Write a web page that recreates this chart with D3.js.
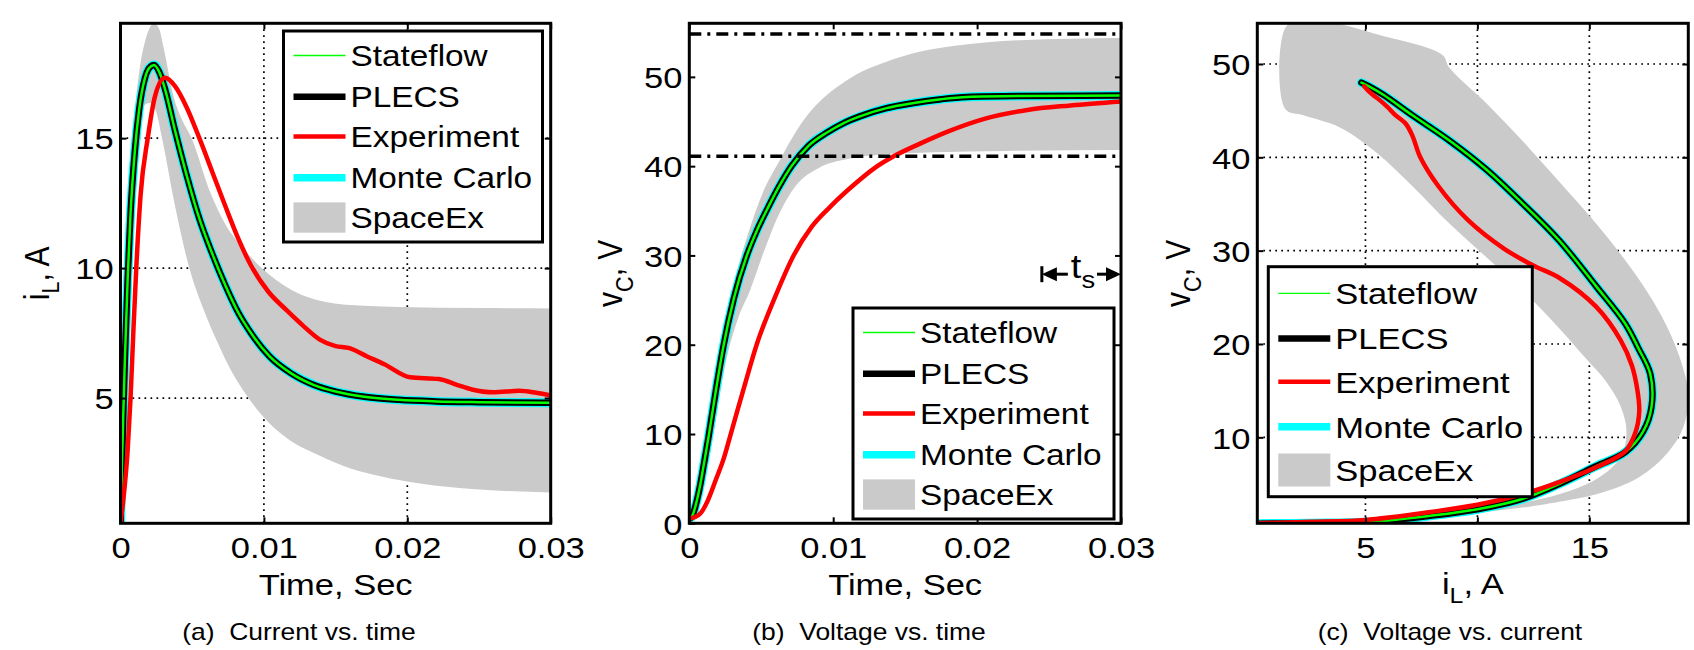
<!DOCTYPE html>
<html>
<head>
<meta charset="utf-8">
<script src="https://cdn.jsdelivr.net/npm/d3@7"></script>
<style>
  html, body { margin: 0; padding: 0; background: #fff; }
  svg { display: block; font-family: "Liberation Sans", Arial, Helvetica, sans-serif; }
</style>
</head>
<body>
<svg id="fig" width="1694" height="650"></svg>
<script>
// ---------- (a) inductor current vs. time ----------
const timeNomA = [0, 0.0001, 0.0002, 0.0003, 0.0005, 0.0007, 0.001, 0.0013, 0.0017, 0.002, 0.00234, 0.0027, 0.0031, 0.0038, 0.0046, 0.0055, 0.0064, 0.0073, 0.0082, 0.0091, 0.0104, 0.0119, 0.0135, 0.015, 0.017, 0.0194, 0.022, 0.025, 0.03];
const iLNomA   = [0.2, 2.4, 4.5, 6.4, 9.6, 12.1, 14.5, 16.1, 17.3, 17.7, 17.82, 17.55, 16.9, 15.3, 13.6, 11.9, 10.55, 9.35, 8.3, 7.5, 6.6, 5.95, 5.5, 5.25, 5.05, 4.93, 4.87, 4.84, 4.82];

const timeExpA = [0, 0.0002, 0.0005, 0.0007, 0.0009, 0.0011, 0.0014, 0.0019, 0.0024, 0.0031, 0.0038, 0.0046, 0.0055, 0.0064, 0.0073, 0.0082, 0.0091, 0.0103, 0.0116, 0.0128, 0.0139, 0.015, 0.0159, 0.0172, 0.0184, 0.0202, 0.0222, 0.0235, 0.0245, 0.026, 0.0278, 0.029, 0.03];
const iLExpA   = [0.2, 1.1, 3.0, 5.0, 7.6, 10.0, 12.8, 15.0, 16.6, 17.32, 17.0, 16.2, 15.0, 13.7, 12.4, 11.15, 10.1, 9.1, 8.37, 7.75, 7.25, 7.0, 6.93, 6.6, 6.3, 5.8, 5.73, 5.5, 5.33, 5.22, 5.28, 5.2, 5.1];

const timeHiA = [0, 0.0002, 0.0004, 0.0007, 0.00108, 0.0014, 0.0017, 0.002, 0.00234, 0.0027, 0.003, 0.0037, 0.0043, 0.00496, 0.0062, 0.0073, 0.0085, 0.00985, 0.0119, 0.0144, 0.017, 0.0194, 0.025, 0.03];
const iLHiA   = [0.2, 5, 9.5, 13.8, 16.5, 17.9, 18.7, 19.2, 19.42, 19.2, 18.5, 16.6, 15.7, 15.0, 13.0, 11.7, 10.8, 10.0, 9.17, 8.69, 8.55, 8.5, 8.46, 8.45];

const timeLoA = [0, 0.0003, 0.0006, 0.001, 0.0014, 0.0017, 0.0021, 0.0025, 0.0029, 0.0038, 0.0048, 0.0058, 0.0068, 0.0078, 0.0088, 0.0098, 0.0115, 0.0139, 0.016, 0.0182, 0.021, 0.0245, 0.03];
const iLLoA   = [0.2, 3.5, 8, 12.5, 15.3, 16.3, 16.35, 16.0, 15.0, 12.4, 10.0, 8.4, 7.1, 5.97, 5.1, 4.38, 3.5, 2.78, 2.3, 1.98, 1.7, 1.5, 1.37];

// ---------- (b) capacitor voltage vs. time ----------
const timeNomB = [0, 0.0002, 0.00044, 0.00077, 0.001, 0.00134, 0.0018, 0.00237, 0.0031, 0.004, 0.0047, 0.00545, 0.0063, 0.0071, 0.0083, 0.0096, 0.0107, 0.0119, 0.0137, 0.0155, 0.0175, 0.0193, 0.023, 0.03];
const vCNomB   = [0.5, 0.8, 2.0, 4.4, 6.5, 9.7, 14.4, 19.8, 25.2, 30, 32.8, 35.3, 37.9, 40.0, 42.3, 43.8, 44.8, 45.6, 46.5, 47.05, 47.5, 47.75, 47.85, 47.9];

const timeExpB = [0, 0.0004, 0.00082, 0.0013, 0.00185, 0.0024, 0.00288, 0.0038, 0.00468, 0.006, 0.00725, 0.0085, 0.00982, 0.0115, 0.0128, 0.0142, 0.016, 0.018, 0.0205, 0.0235, 0.0265, 0.03];
const vCExpB   = [0.5, 0.7, 1.2, 2.6, 4.9, 7.3, 10, 15.2, 20, 25.5, 30, 33.2, 35.5, 38.0, 39.7, 41.1, 42.5, 43.9, 45.3, 46.3, 46.8, 47.25];

const timeHiB = [0, 0.0004, 0.0012, 0.0022, 0.0032, 0.0042, 0.0051, 0.0062, 0.0072, 0.0082, 0.0093, 0.0104, 0.012, 0.0137, 0.016, 0.0186, 0.023, 0.03];
const vCHiB   = [0.5, 2.0, 9.5, 19.8, 27.5, 33, 37, 40.4, 43.3, 45.7, 47.6, 49.0, 50.6, 51.7, 52.8, 53.5, 54.1, 54.35];

const timeLoB = [0, 0.0005, 0.0015, 0.0026, 0.0034, 0.0042, 0.0052, 0.0062, 0.0074, 0.009, 0.011, 0.0135, 0.017, 0.022, 0.03];
const vCLoB   = [0.5, 1.3, 8.5, 18.5, 23, 26, 30.5, 34.5, 37.8, 39.8, 40.8, 41.3, 41.55, 41.7, 41.8];

const settleBoundsB = [54.8, 41.1];       // dash-dot settling band (V)
const settleSpanB   = [0.0245, 0.03];     // settling-time marker (s)
const settleLevelB  = 27.9;               // voltage where the t_s marker sits

// ---------- (c) voltage vs. current (phase plane) ----------
const iLNomC = [0.2, 2.5, 5.0, 7.9, 10.0, 12.0, 13.65, 15.3, 16.6, 17.4, 17.78, 17.72, 17.2, 16.6, 15.3, 13.65, 12.0, 10.4, 8.75, 7.1, 5.8, 5.16, 4.82];
const vCNomC = [0.75, 0.8, 0.9, 1.6, 2.3, 3.4, 5.0, 6.9, 8.4, 10.6, 13.3, 16.8, 19.5, 22.2, 26.2, 31.1, 35.1, 38.7, 41.8, 44.5, 46.7, 47.6, 48.0];

const iLExpC = [0.2, 2.5, 5.0, 7.9, 10.0, 12.0, 13.65, 15.3, 16.6, 17.07, 17.23, 17.15, 16.9, 16.4, 15.3, 13.65, 12.5, 11.2, 9.57, 8.26, 7.45, 7.1, 6.8, 6.3, 5.98, 5.65, 5.33, 5.1, 4.95];
const vCExpC = [0.8, 0.95, 1.15, 2.0, 2.77, 3.9, 5.2, 6.8, 8.5, 10.6, 12.8, 15.0, 17.7, 20.4, 24.0, 27.1, 28.4, 30.2, 33.3, 36.9, 40.0, 42.3, 43.6, 44.6, 45.4, 46.1, 46.7, 47.2, 47.6];

const iLOuterC = [0.2, 5, 8, 10, 12.4, 13.65, 15.3, 17.2, 18.5, 19.2, 19.42, 19.03, 18.2, 16.9, 15.3, 13.65, 12.0, 10.4, 8.75, 8.43, 5.5, 3.4, 2.2, 1.45];
const vCOuterC = [0.7, 0.75, 1.3, 1.9, 2.6, 3.1, 3.9, 5.7, 8.35, 11.1, 14.6, 18.6, 23.1, 28.0, 32.9, 37.4, 41.8, 45.8, 49.6, 51.0, 53.2, 54.5, 54.6, 54.0];
const iLInnerC = [1.41, 2.23, 3.86, 5.5, 7.1, 8.75, 10.4, 12.0, 13.65, 14.79, 15.77, 16.4, 16.66, 16.4, 15.3, 13.65, 12, 10, 5, 0.2];
const vCInnerC = [45.2, 44.5, 43.2, 40.5, 36.9, 32.9, 29.3, 25.8, 21.7, 18.6, 15.9, 13.3, 10.6, 7.9, 5.5, 3.9, 3.0, 2.4, 1.3, 0.85];

// ---------- ticks, legend and captions ----------
const timeTicks      = [0, 0.01, 0.02, 0.03];
const timeTickLabels = ["0", "0.01", "0.02", "0.03"];
const iLTicksA  = [5, 10, 15];
const vCTicksB  = [0, 10, 20, 30, 40, 50];
const iLTicksC  = [5, 10, 15];
const vCTicksC  = [10, 20, 30, 40, 50];
const legendLabels = ["Stateflow", "PLECS", "Experiment", "Monte Carlo", "SpaceEx"];
const captions = ["(a)\u00a0 Current vs. time", "(b)\u00a0 Voltage vs. time", "(c)\u00a0 Voltage vs. current"];

// ---------- styling ----------
const SX = 1.15;                 // horizontal stretch of all lettering
const FONT = 30;                 // tick and axis-label size
const LEGEND_FONT = 29;
const GRAY = "#cacaca";
const styles = {
  mc:   { color: "#00ffff", plot: 9,   legend: 7.5 },
  plecs:{ color: "#000000", plot: 6.5, legend: 6.5 },
  sf:   { color: "#00ff00", plot: 2.5, legend: 1.3 },
  exp:  { color: "#ff0000", plot: 4.5, legend: 4.5 }
};

const svg = d3.select("#fig");
const zip = (xs, ys) => xs.map((v, i) => [v, ys[i]]);
let clipId = 0;

function stretchedText(parent, x, y, parts, size, anchor, rotate) {
  const t = parent.append("text")
    .attr("transform", `translate(${x},${y}) scale(${SX},1)` + (rotate ? ` rotate(${rotate})` : ""))
    .attr("text-anchor", anchor)
    .attr("font-size", size)
    .attr("fill", "#000");
  parts.forEach(p => {
    const s = t.append("tspan").text(p.text);
    if (p.sub) s.attr("font-size", size * 0.72).attr("dy", size * 0.3);
    if (p.back) s.attr("dy", -size * 0.3);
  });
  return t;
}

function makePanel(box, xDomain, yDomain) {
  const x = d3.scaleLinear().domain(xDomain).range([box.left, box.right]);
  const y = d3.scaleLinear().domain(yDomain).range([box.bottom, box.top]);
  const g = svg.append("g");
  const id = "clip" + (clipId++);
  g.append("clipPath").attr("id", id).append("rect")
    .attr("x", box.left).attr("y", box.top)
    .attr("width", box.right - box.left).attr("height", box.bottom - box.top);
  const grid = g.append("g");
  const plot = g.append("g").attr("clip-path", `url(#${id})`);
  const frame = g.append("g");
  return { x, y, g, grid, plot, frame, box };
}

function drawGrid(P, xs, ys) {
  const { x, y, grid, box } = P;
  const attrs = s => s.attr("stroke", "#000").attr("stroke-width", 1.7).attr("stroke-dasharray", "1.7,4.3");
  grid.selectAll(".gx").data(xs).join("line")
    .attr("x1", d => x(d)).attr("x2", d => x(d)).attr("y1", box.top).attr("y2", box.bottom).call(attrs);
  grid.selectAll(".gy").data(ys).join("line")
    .attr("y1", d => y(d)).attr("y2", d => y(d)).attr("x1", box.left).attr("x2", box.right).call(attrs);
}

function drawFrame(P, xTicks, xFmt, yTicks, yFmt) {
  const { x, y, frame, box } = P;
  const style = a => {
    a.select(".domain").remove();
    a.selectAll(".tick line").attr("stroke", "#000").attr("stroke-width", 2);
    a.selectAll(".tick text").attr("font-size", FONT).attr("fill", "#000")
      .attr("font-family", '"Liberation Sans", Arial, Helvetica, sans-serif');
    a.attr("font-family", null).attr("font-size", null);
  };
  frame.append("g").attr("transform", `translate(0,${box.bottom})`)
    .call(d3.axisBottom(x).tickValues(xTicks).tickFormat(xFmt).tickSize(-6).tickPadding(13))
    .call(style)
    .selectAll(".tick text").attr("transform", `scale(${SX},1)`);
  frame.append("g").attr("transform", `translate(0,${box.top})`)
    .call(d3.axisTop(x).tickValues(xTicks).tickFormat("").tickSize(-6)).call(style);
  frame.append("g").attr("transform", `translate(${box.left},0)`)
    .call(d3.axisLeft(y).tickValues(yTicks).tickFormat(yFmt).tickSize(-6).tickPadding(6))
    .call(style)
    .selectAll(".tick text").attr("transform", `scale(${SX},1)`).attr("dy", "0.36em");
  frame.append("g").attr("transform", `translate(${box.right},0)`)
    .call(d3.axisRight(y).tickValues(yTicks).tickFormat("").tickSize(-6)).call(style);
  frame.append("rect")
    .attr("x", box.left).attr("y", box.top)
    .attr("width", box.right - box.left).attr("height", box.bottom - box.top)
    .attr("fill", "none").attr("stroke", "#000").attr("stroke-width", 3);
}

function drawBand(P, hi, lo) {
  const line = d3.line().x(d => P.x(d[0])).y(d => P.y(d[1])).curve(d3.curveMonotoneX);
  const up = line(hi);
  const down = line(lo.slice().reverse()).replace(/^M/, "L");
  P.plot.append("path").attr("d", up + down + "Z").attr("fill", GRAY).attr("stroke", "none");
}

function drawSeries(P, data, curve) {
  const line = d3.line().x(d => P.x(d[0])).y(d => P.y(d[1])).curve(curve);
  const d = line(data);
  ["mc", "plecs", "sf"].forEach(k => {
    P.plot.append("path").attr("d", d).attr("fill", "none")
      .attr("stroke", styles[k].color).attr("stroke-width", styles[k].plot)
      .attr("stroke-linejoin", "round").attr("stroke-linecap", "round");
  });
}

function drawExp(P, data, curve) {
  const line = d3.line().x(d => P.x(d[0])).y(d => P.y(d[1])).curve(curve);
  P.plot.append("path").attr("d", line(data)).attr("fill", "none")
    .attr("stroke", styles.exp.color).attr("stroke-width", styles.exp.plot)
    .attr("stroke-linejoin", "round").attr("stroke-linecap", "round");
}

function drawLegend(left, top, w, h, size) {
  const g = svg.append("g");
  g.append("rect").attr("x", left).attr("y", top).attr("width", w).attr("height", h)
    .attr("fill", "#fff").attr("stroke", "#000").attr("stroke-width", 3);
  const rows = [0.116, 0.312, 0.5, 0.696, 0.884].map(f => top + f * h);
  const keys = ["sf", "plecs", "exp", "mc"];
  keys.forEach((k, i) => {
    g.append("line").attr("x1", left + 10).attr("x2", left + 62)
      .attr("y1", rows[i]).attr("y2", rows[i])
      .attr("stroke", styles[k].color).attr("stroke-width", styles[k].legend);
  });
  const ph = 0.1435 * h;
  g.append("rect").attr("x", left + 10).attr("y", rows[4] - ph / 2)
    .attr("width", 52).attr("height", ph).attr("fill", GRAY);
  legendLabels.forEach((lab, i) => {
    stretchedText(g, left + 67, rows[i] + size * 0.36, [{ text: lab }], size, "start");
  });
}

const fmtTime = (d, i) => timeTickLabels[i];
const fmtNum = d => String(d);

// ---------------- panel (a) ----------------
const boxA = { left: 120.5, right: 550.7, top: 23.3, bottom: 523.3 };
const PA = makePanel(boxA, [0, 0.03], [0.18, 19.42]);
drawGrid(PA, [0.01, 0.02], iLTicksA);
drawBand(PA, zip(timeHiA, iLHiA), zip(timeLoA, iLLoA));
drawSeries(PA, zip(timeNomA, iLNomA), d3.curveMonotoneX);
drawExp(PA, zip(timeExpA, iLExpA), d3.curveMonotoneX);
drawFrame(PA, timeTicks, fmtTime, iLTicksA, fmtNum);
drawLegend(283.5, 31, 259, 211, LEGEND_FONT);

// ---------------- panel (b) ----------------
const boxB = { left: 689.3, right: 1121, top: 23.3, bottom: 523.3 };
const PB = makePanel(boxB, [0, 0.03], [0, 56]);
drawBand(PB, zip(timeHiB, vCHiB), zip(timeLoB, vCLoB));
drawSeries(PB, zip(timeNomB, vCNomB), d3.curveMonotoneX);
drawExp(PB, zip(timeExpB, vCExpB), d3.curveMonotoneX);
PB.plot.selectAll(".bound").data(settleBoundsB).join("line")
  .attr("x1", boxB.left).attr("x2", boxB.right)
  .attr("y1", d => PB.y(d)).attr("y2", d => PB.y(d))
  .attr("stroke", "#000").attr("stroke-width", 3.5).attr("stroke-dasharray", "12,6,3,6");
drawFrame(PB, timeTicks, fmtTime, vCTicksB, fmtNum);
drawLegend(853, 308, 261, 211, LEGEND_FONT);

// settling-time marker
{
  const yS = PB.y(settleLevelB);
  const xa = PB.x(settleSpanB[0]), xb = PB.x(settleSpanB[1]);
  const m = PB.g.append("g");
  m.append("line").attr("x1", xa).attr("x2", xa).attr("y1", yS - 8).attr("y2", yS + 8)
    .attr("stroke", "#000").attr("stroke-width", 3);
  m.append("path").attr("d", `M${xa},${yS} L${xa + 15},${yS - 7} L${xa + 15},${yS + 7} Z`).attr("fill", "#000");
  m.append("line").attr("x1", xa + 12).attr("x2", xa + 26).attr("y1", yS).attr("y2", yS)
    .attr("stroke", "#000").attr("stroke-width", 3);
  m.append("line").attr("x1", xb - 24).attr("x2", xb - 10).attr("y1", yS).attr("y2", yS)
    .attr("stroke", "#000").attr("stroke-width", 3);
  m.append("path").attr("d", `M${xb},${yS} L${xb - 15},${yS - 7} L${xb - 15},${yS + 7} Z`).attr("fill", "#000");
  stretchedText(m, xa + 29, yS + 4, [{ text: "t" }, { text: "s", sub: true }], FONT + 3, "start");
}

// ---------------- panel (c) ----------------
const boxC = { left: 1257.3, right: 1688.3, top: 23.3, bottom: 523.3 };
const PC = makePanel(boxC, [0.17, 19.42], [0.79, 54.36]);
drawGrid(PC, iLTicksC, vCTicksC);
{
  const ring = zip(iLOuterC, vCOuterC).concat(zip(iLInnerC, vCInnerC));
  const closed = d3.line().x(d => PC.x(d[0])).y(d => PC.y(d[1])).curve(d3.curveCatmullRomClosed.alpha(0.5));
  PC.plot.append("path").attr("d", closed(ring)).attr("fill", GRAY);
}
drawSeries(PC, zip(iLNomC, vCNomC), d3.curveCatmullRom.alpha(0.5));
drawExp(PC, zip(iLExpC, vCExpC), d3.curveCatmullRom.alpha(0.5));
drawFrame(PC, iLTicksC, fmtNum, vCTicksC, fmtNum);
drawLegend(1268.3, 266.7, 264, 230, LEGEND_FONT + 1);

// ---------------- axis labels and captions ----------------
const labels = svg.append("g");
stretchedText(labels, (boxA.left + boxA.right) / 2, 595, [{ text: "Time, Sec" }], FONT, "middle");
stretchedText(labels, (boxB.left + boxB.right) / 2, 595, [{ text: "Time, Sec" }], FONT, "middle");
stretchedText(labels, (boxC.left + boxC.right) / 2, 594, [{ text: "i" }, { text: "L", sub: true }, { text: ", A", back: true }], FONT, "middle");
stretchedText(labels, boxA.left - 72, (boxA.top + boxA.bottom) / 2, [{ text: "i" }, { text: "L", sub: true }, { text: ", A", back: true }], FONT, "middle", -90);
stretchedText(labels, boxB.left - 67, (boxB.top + boxB.bottom) / 2, [{ text: "v" }, { text: "C", sub: true }, { text: ", V", back: true }], FONT, "middle", -90);
stretchedText(labels, boxC.left - 67, (boxC.top + boxC.bottom) / 2, [{ text: "v" }, { text: "C", sub: true }, { text: ", V", back: true }], FONT, "middle", -90);

const captionCenters = [299, 869, 1450];
captions.forEach((c, i) => {
  stretchedText(labels, captionCenters[i], 640, [{ text: c }], 23, "middle");
});
</script>
</body>
</html>
